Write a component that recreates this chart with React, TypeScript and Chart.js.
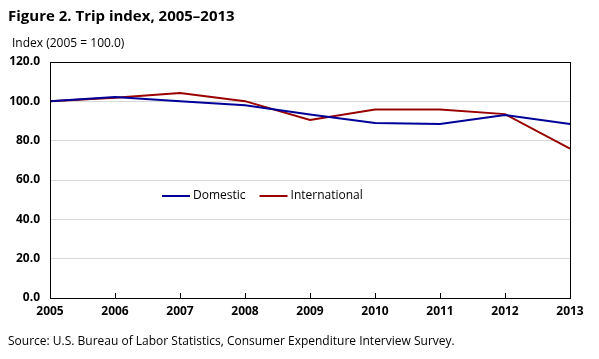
import React, { useEffect, useRef } from "react";
import { Chart, registerables } from "chart.js";

Chart.register(...registerables);

const years = ["2005", "2006", "2007", "2008", "2009", "2010", "2011", "2012", "2013"];
const domestic = [100.0, 102.2, 100.1, 98.0, 93.3, 89.0, 88.5, 93.1, 88.5];
const international = [100.0, 101.8, 104.2, 100.1, 90.5, 95.9, 95.9, 93.5, 76.0];
const yTicks = [0, 20, 40, 60, 80, 100, 120];

const titleText = "Figure 2. Trip index, 2005–2013";
const yTitleText = "Index (2005 = 100.0)";
const sourceText = "Source: U.S. Bureau of Labor Statistics, Consumer Expenditure Interview Survey.";

const FONT = "'Open Sans', 'Noto Sans', sans-serif";

const decorPlugin = {
  id: "decor",
  afterDraw(chart: any) {
    const ctx = chart.ctx;
    const a = chart.chartArea;
    ctx.save();
    // box
    ctx.strokeStyle = "#000";
    ctx.lineWidth = 1;
    ctx.strokeRect(Math.round(a.left) + 0.5, Math.round(a.top) + 0.5, Math.round(a.right - a.left), Math.round(a.bottom - a.top));
    // inner x ticks
    const xs = chart.scales.x;
    for (let i = 1; i < years.length - 1; i++) {
      const x = Math.round(xs.getPixelForValue(i)) + 0.5;
      ctx.beginPath();
      ctx.moveTo(x, a.bottom);
      ctx.lineTo(x, a.bottom - 5);
      ctx.stroke();
    }
    // texts
    ctx.fillStyle = "#000";
    ctx.textBaseline = "alphabetic";
    ctx.textAlign = "left";
    ctx.font = `bold 15px ${FONT}`;
    ctx.fillText(titleText, 8, 21);
    ctx.font = `12px ${FONT}`;
    ctx.fillText(yTitleText, 12, 47);
    ctx.fillText(sourceText, 8, 345);
    // legend
    const items = chart.data.datasets;
    const ly = 196;
    let lx = 162;
    ctx.font = `12px ${FONT}`;
    ctx.textBaseline = "middle";
    items.forEach((ds: any) => {
      ctx.strokeStyle = ds.borderColor;
      ctx.lineWidth = 2;
      ctx.beginPath();
      ctx.moveTo(lx, ly);
      ctx.lineTo(lx + 28, ly);
      ctx.stroke();
      ctx.fillStyle = "#000";
      ctx.fillText(ds.label, lx + 31, ly);
      lx += 31 + ctx.measureText(ds.label).width + 14;
    });
    ctx.restore();
  },
};

export default function App() {
  const ref = useRef<HTMLCanvasElement>(null);
  useEffect(() => {
    if (!ref.current) return;
    const chart = new Chart(ref.current, {
      type: "line",
      data: {
        labels: years,
        datasets: [
          {
            label: "Domestic",
            data: domestic,
            borderColor: "#000099",
            backgroundColor: "#000099",
            borderWidth: 2,
            pointRadius: 0,
            tension: 0,
          },
          {
            label: "International",
            data: international,
            borderColor: "#990000",
            backgroundColor: "#990000",
            borderWidth: 2,
            pointRadius: 0,
            tension: 0,
          },
        ],
      },
      options: {
        responsive: false,
        animation: false,
        layout: { padding: { top: 62, left: 0, right: 29, bottom: 31 } },
        plugins: {
          legend: { display: false },
          title: { display: false },
          tooltip: { enabled: false },
        },
        scales: {
          x: {
            offset: false,
            grid: { display: false, drawTicks: false },
            border: { display: true, color: "#000" },
            ticks: {
              color: "#000",
              font: { family: FONT, size: 12, weight: "bold" },
              padding: 6,
              maxRotation: 0,
              autoSkip: false,
            },
            afterFit: (s: any) => {
              s.height = 30;
            },
          },
          y: {
            min: 0,
            max: 120,
            afterBuildTicks: (s: any) => {
              s.ticks = yTicks.map((v) => ({ value: v }));
            },
            grid: {
              color: (c: any) => (c.tick && (c.tick.value === 0 || c.tick.value === 120) ? "rgba(0,0,0,0)" : "#d9d9d9"),
              drawTicks: false,
            },
            border: { display: true, color: "#000" },
            ticks: {
              color: "#000",
              font: { family: FONT, size: 12, weight: "bold" },
              padding: 10,
              callback: (v: any) => Number(v).toFixed(1),
            },
            afterFit: (s: any) => {
              s.width = 50;
            },
          },
        },
      },
      plugins: [decorPlugin],
    });
    return () => chart.destroy();
  }, []);
  return (
    <div style={{ position: "absolute", left: 0, top: 0, width: 599, height: 359, background: "#fff" }}>
      <canvas ref={ref} width={599} height={359} style={{ display: "block" }} />
    </div>
  );
}
